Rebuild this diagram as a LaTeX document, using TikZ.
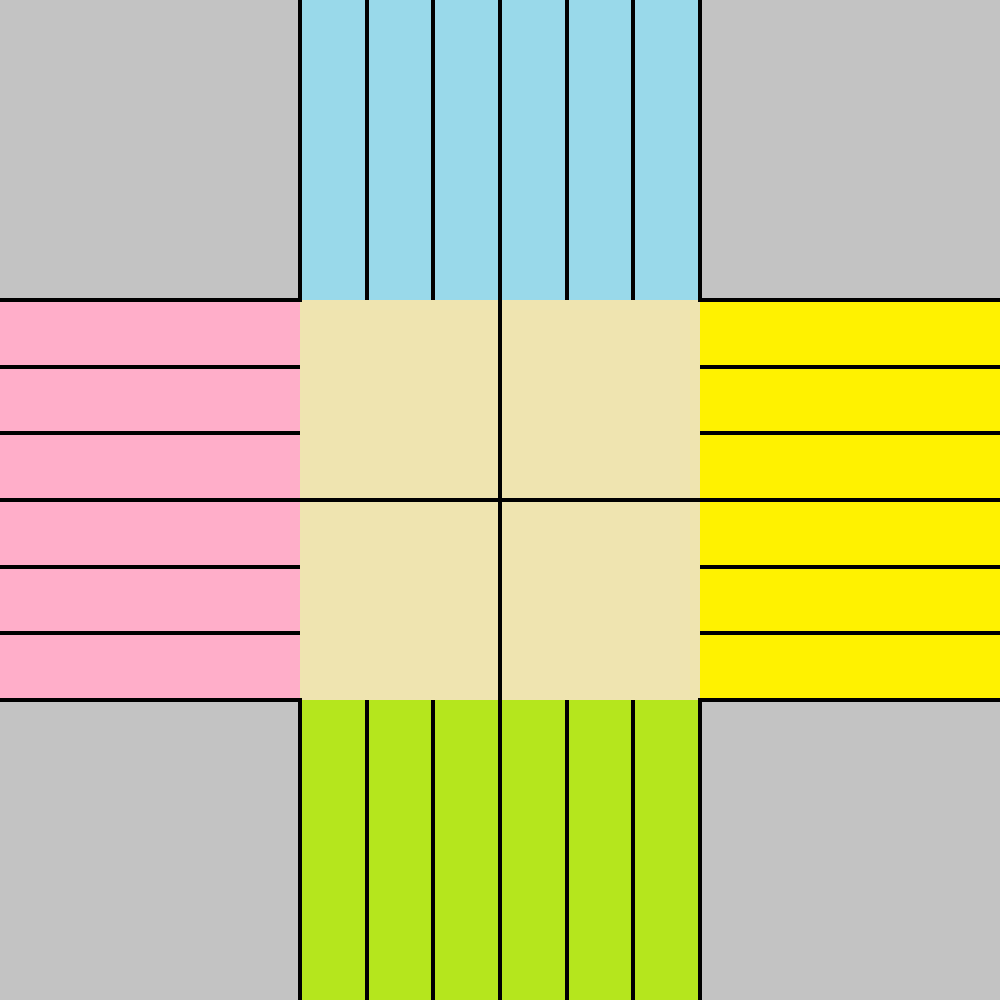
\documentclass[tikz,border=0pt]{standalone}
\usetikzlibrary{positioning}

\definecolor{kerb}{HTML}{C3C3C3}
\definecolor{northroad}{HTML}{99D9EA}
\definecolor{southroad}{HTML}{B5E61D}
\definecolor{westroad}{HTML}{FFAEC9}
\definecolor{eastroad}{HTML}{FFF200}
\definecolor{junction}{HTML}{EFE4B0}

\begin{document}
\begin{tikzpicture}[line width=1.7pt]
\useasboundingbox (0,0) rectangle (15,15);
% ground and the four arms
\fill[kerb] (0,0) rectangle (15,15);
\fill[northroad] (4.5,10.5) rectangle (10.5,15);
\fill[southroad] (4.5,0) rectangle (10.5,4.5);
\fill[westroad] (0,4.5) rectangle (4.5,10.5);
\fill[eastroad] (10.5,4.5) rectangle (15,10.5);
\fill[junction] (4.5,4.5) rectangle (10.5,10.5);
% lane lines
\foreach \l in {5.5,6.5,8.5,9.5} {
  \draw (\l,10.5) -- (\l,15);
  \draw (\l,0) -- (\l,4.5);
  \draw (0,\l) -- (4.5,\l);
  \draw (10.5,\l) -- (15,\l);
}
\draw (7.5,0) -- (7.5,15);
\draw (0,7.5) -- (15,7.5);
% kerbs
\draw (0,4.5) -| (4.5,0);
\draw (0,10.5) -| (4.5,15);
\draw (15,10.5) -| (10.5,15);
\draw (15,4.5) -| (10.5,0);
\end{tikzpicture}
\end{document}
